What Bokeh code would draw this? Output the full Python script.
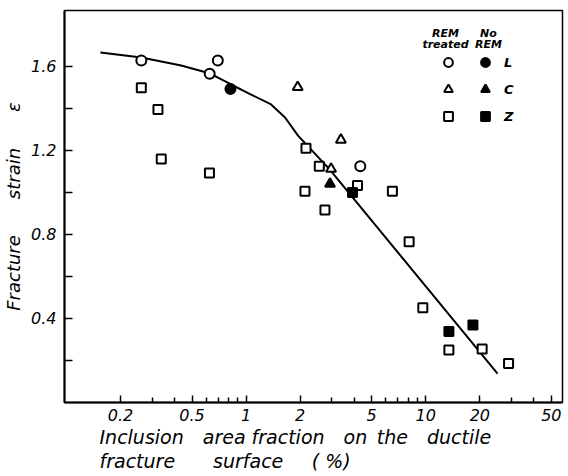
from bokeh.plotting import figure
from bokeh.models import FixedTicker, Legend, LegendItem, Label, Title, Range1d
from bokeh.embed import file_html
from bokeh.resources import INLINE

# ---- data ----
circ_open_x = [0.261, 0.696, 0.627, 4.32]
circ_open_y = [1.627, 1.627, 1.564, 1.124]
circ_fill_x = [0.818]
circ_fill_y = [1.492]
tri_open_x = [1.937, 3.37, 2.97]
tri_open_y = [1.50, 1.25, 1.111]
tri_fill_x = [2.93]
tri_fill_y = [1.04]
sq_open_x = [0.261, 0.323, 0.337, 0.625, 2.154, 2.555, 2.126, 2.747, 4.17, 6.52,
             8.08, 9.63, 13.45, 20.6, 28.9]
sq_open_y = [1.497, 1.394, 1.159, 1.092, 1.21, 1.124, 1.005, 0.916, 1.032, 1.005,
             0.765, 0.451, 0.25, 0.254, 0.186]
sq_fill_x = [3.91, 13.45, 18.3]
sq_fill_y = [0.999, 0.338, 0.369]
curve_x = [0.1545, 0.261, 0.435, 0.631, 0.825, 1.066, 1.377, 1.647, 1.945, 2.892, 25.1]
curve_y = [1.665, 1.641, 1.603, 1.565, 1.513, 1.465, 1.418, 1.356, 1.270, 1.113, 0.137]

x_ticks = [0.2, 0.5, 1, 2, 5, 10, 20, 50]
x_tick_labels = ["0.2", "0.5", "1", "2", "5", "10", "20", "50"]
x_minor = [0.3, 0.4, 0.6, 0.7, 0.8, 0.9, 3, 4, 6, 7, 8, 9, 30, 40]
y_ticks = [0.4, 0.8, 1.2, 1.6]
y_tick_labels = ["0.4", "0.8", "1.2", "1.6"]
y_minor = [0.2, 0.6, 1.0, 1.4]
row_labels = ["L", "C", "Z"]

FONT = "DejaVu Sans"
EM = "\u2003"
EN = "\u2002"

p = figure(width=568, height=476, x_axis_type="log",
           x_range=Range1d(0.0975, 57.7), y_range=Range1d(0, 1.865),
           output_backend="svg", toolbar_location=None,
           min_border_left=63, min_border_right=6, min_border_top=10,
           min_border_bottom=74)
p.grid.visible = False
p.outline_line_color = "black"
p.outline_line_width = 1.5
p.background_fill_color = "white"
p.border_fill_color = "white"

# curve
p.line(curve_x, curve_y, line_color="black", line_width=2)

mk = dict(line_color="black", line_width=2)
r_co = p.scatter(circ_open_x, circ_open_y, marker="circle", size=10, fill_color="white", **mk)
r_cf = p.scatter(circ_fill_x, circ_fill_y, marker="circle", size=10, fill_color="black", **mk)
r_to = p.scatter(tri_open_x, tri_open_y, marker="triangle", size=10, fill_color="white", **mk)
r_tf = p.scatter(tri_fill_x, tri_fill_y, marker="triangle", size=10, fill_color="black", **mk)
r_so = p.scatter(sq_open_x, sq_open_y, marker="square", size=9, fill_color="white", **mk)
r_sf = p.scatter(sq_fill_x, sq_fill_y, marker="square", size=9, fill_color="black", **mk)

# axes
xa = p.xaxis[0]
xa.ticker = FixedTicker(ticks=x_ticks, minor_ticks=x_minor)
xa.major_label_overrides = dict(zip(x_ticks, x_tick_labels))
xa.major_tick_in = 7
xa.major_tick_out = 0
xa.minor_tick_in = 5
xa.minor_tick_out = 0
xa.minor_tick_line_width = 1.5
xa.axis_line_width = 2
xa.major_tick_line_width = 1.5
xa.major_label_standoff = 6
xa.major_label_text_font = FONT
xa.major_label_text_font_style = "italic"
xa.major_label_text_font_size = "16px"
xa.major_label_text_color = "black"

ya = p.yaxis[0]
ya.ticker = FixedTicker(ticks=y_ticks, minor_ticks=y_minor)
ya.major_label_overrides = dict(zip(y_ticks, y_tick_labels))
ya.major_tick_in = 8
ya.major_tick_out = 0
ya.minor_tick_in = 8
ya.minor_tick_out = 0
ya.minor_tick_line_width = 1.5
ya.major_tick_line_width = 1.5
ya.axis_line_width = 2
ya.major_label_standoff = 8
ya.major_label_text_font = FONT
ya.major_label_text_font_style = "italic"
ya.major_label_text_font_size = "16px"
ya.major_label_text_color = "black"
ya.axis_label = "Fracture" + EM * 2 + "strain" + EM * 2 + "\u03b5"
ya.axis_label_text_font = FONT
ya.axis_label_text_font_style = "italic"
ya.axis_label_text_font_size = "18px"
ya.axis_label_text_color = "black"
ya.axis_label_standoff = 4

t1 = Title(text="Inclusion" + EM + "area" + " " + "fraction" + EM + "on" + EN + "the" + EM + "ductile",
           align="left", offset=35, text_font=FONT, text_font_style="italic",
           text_font_size="19px", text_color="black", standoff=0)
t2 = Title(text="fracture" + EM * 2 + "surface" + EM + EN + "( %)",
           align="left", offset=35, text_font=FONT, text_font_style="italic",
           text_font_size="19px", text_color="black", standoff=0)
p.add_layout(t1, "below")
p.add_layout(t2, "below")

# legend
items = [
    LegendItem(label="", renderers=[r_co]),
    LegendItem(label=row_labels[0], renderers=[r_cf]),
    LegendItem(label="", renderers=[r_to]),
    LegendItem(label=row_labels[1], renderers=[r_tf]),
    LegendItem(label="", renderers=[r_so]),
    LegendItem(label=row_labels[2], renderers=[r_sf]),
]
leg = Legend(items=items, orientation="horizontal", ncols=2,
             location=(373, 275), margin=0, padding=0, spacing=5,
             glyph_width=22, glyph_height=22, label_standoff=8, label_width=2,
             label_text_font=FONT, label_text_font_style="bold italic",
             label_text_font_size="13px", label_text_color="black",
             background_fill_alpha=0, border_line_alpha=0)
p.add_layout(leg)

for txt, x, y in [("REM", 381, 369), ("treated", 381, 358), ("No", 424, 369), ("REM", 424, 358)]:
    p.add_layout(Label(x=x, y=y, x_units="screen", y_units="screen", text=txt,
                       text_align="center", text_baseline="middle",
                       text_font=FONT, text_font_style="bold italic",
                       text_font_size="11px", text_color="black"))

open("out.html", "w").write(file_html(p, INLINE))
